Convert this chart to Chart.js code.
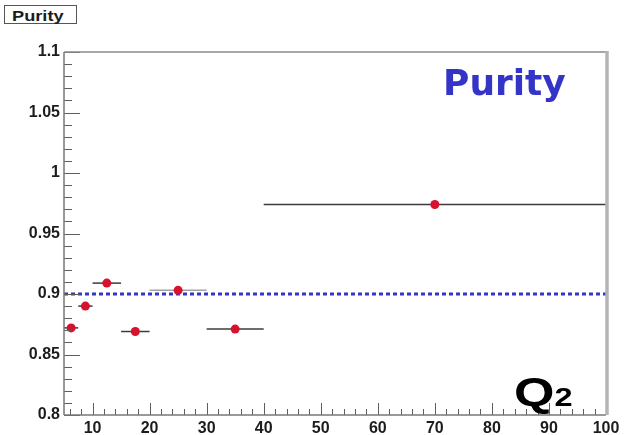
<!DOCTYPE html>
<html>
<head>
<meta charset="utf-8">
<script src="https://cdn.jsdelivr.net/npm/chart.js@4/dist/chart.umd.min.js"></script>
<style>
  body { margin: 0; background: #fff; }
  #wrap { position: relative; width: 626px; height: 435px; overflow: hidden; }
  #wrap canvas { position: absolute; left: 0; top: 0; }
  .lbl { position: absolute; line-height: 1; white-space: nowrap; transform-origin: left top; }
  #statBox { position: absolute; left: 4px; top: 5px; width: 71px; height: 17px; border: 1.5px solid #555; background: #fff; }
  #statText { left: 12px; top: 8px; font: bold 14px "Liberation Sans", Arial, sans-serif; color: #1c1c1c; transform: scaleX(1.3); }
  #bigTitle { left: 443px; top: 62px; font: bold 36px "DejaVu Sans", sans-serif; color: #3434c8; }
  #axisName { left: 514px; top: 370px; font: bold 40px "Liberation Sans", Arial, sans-serif; color: #000; transform: scaleX(1.3); }
  #axisName span { font-size: 25px; }
</style>
</head>
<body>
<div id="wrap">
  <canvas id="chartPurity" width="626" height="435"></canvas>
  <div id="statBox"></div>
  <div class="lbl" id="statText">Purity</div>
  <div class="lbl" id="bigTitle">Purity</div>
  <div class="lbl" id="axisName">Q<span>2</span></div>
</div>
<script>
// Q2 bins: centre, lower and upper edge
const q2Mid = [6.25, 8.75, 12.5, 17.5, 25, 35, 70];
const q2Lo  = [5, 7.5, 10, 15, 20, 30, 40];
const q2Hi  = [7.5, 10, 15, 20, 30, 40, 100];
const purity = [0.872, 0.890, 0.909, 0.869, 0.903, 0.871, 0.974];

const refLevel = 0.9;
const xTicks = [10, 20, 30, 40, 50, 60, 70, 80, 90, 100];
const yTicks = [0.8, 0.85, 0.9, 0.95, 1, 1.05, 1.1];

const tickFont = { family: 'Liberation Sans', size: 16, weight: 'bold' };

// horizontal bin-width bars, drawn under the markers
const errorBars = {
  id: 'errorBars',
  beforeDatasetsDraw(chart) {
    const { ctx, scales: { x, y } } = chart;
    ctx.save();
    ctx.lineWidth = 1.5;
    q2Lo.forEach((lo, i) => {
      const py = y.getPixelForValue(purity[i]);
      ctx.strokeStyle = i === 4 ? '#a2a2a2' : '#3c3c3c';
      ctx.beginPath();
      ctx.moveTo(x.getPixelForValue(lo), py);
      ctx.lineTo(x.getPixelForValue(q2Hi[i]), py);
      ctx.stroke();
    });
    ctx.restore();
  },
};

// ROOT-style frame with ticks pointing into the pad
const frame = {
  id: 'frame',
  afterDraw(chart) {
    const { ctx, chartArea: a, scales: { x, y } } = chart;
    const seg = (x1, y1, x2, y2) => { ctx.beginPath(); ctx.moveTo(x1, y1); ctx.lineTo(x2, y2); ctx.stroke(); };
    ctx.save();
    ctx.strokeStyle = '#5e5e5e';
    ctx.lineWidth = 1;
    for (let v = 80; v <= 110; v++) {
      const py = Math.round(y.getPixelForValue(v / 100)) + 0.5;
      seg(a.left, py, a.left + (v % 5 === 0 ? 16 : 8), py);
    }
    for (let v = 6; v <= 100; v += 2) {
      const px = Math.round(x.getPixelForValue(v)) + 0.5;
      seg(px, a.bottom, px, a.bottom - (v % 10 === 0 ? 12 : 6));
    }
    ctx.lineWidth = 1.5;
    ctx.strokeStyle = '#777';
    seg(a.left, a.top, a.left, a.bottom);
    seg(a.left, a.bottom, a.right, a.bottom);
    ctx.strokeStyle = '#8a8a8a';
    seg(a.left, a.top, a.right, a.top);
    ctx.lineWidth = 3.5;
    ctx.strokeStyle = '#b4b4b4';
    seg(a.right + 1, a.top - 1, a.right + 1, a.bottom);
    ctx.restore();
  },
};

new Chart(document.getElementById('chartPurity'), {
  type: 'scatter',
  data: {
    datasets: [
      {
        data: q2Mid.map((q, i) => ({ x: q, y: purity[i] })),
        backgroundColor: '#d8112d',
        borderWidth: 0,
        pointRadius: 4.5,
      },
      {
        type: 'line',
        data: [{ x: 5, y: refLevel }, { x: 100, y: refLevel }],
        borderColor: '#3434c8',
        borderWidth: 3,
        borderDash: [4, 3],
        pointRadius: 0,
      },
    ],
  },
  options: {
    responsive: false,
    animation: false,
    layout: { padding: { top: 52, right: 20, left: 0, bottom: 0 } },
    plugins: { legend: { display: false }, tooltip: { enabled: false } },
    scales: {
      x: {
        type: 'linear',
        min: 5,
        max: 100,
        afterBuildTicks: s => { s.ticks = xTicks.map(v => ({ value: v })); },
        afterFit: s => { s.height = 20; },
        grid: { display: false, drawTicks: false },
        border: { display: false },
        ticks: { autoSkip: false, maxRotation: 0, padding: 4, color: '#1c1c1c', font: tickFont },
      },
      y: {
        min: 0.8,
        max: 1.1,
        afterBuildTicks: s => { s.ticks = yTicks.map(v => ({ value: v })); },
        afterFit: s => { s.width = 64; },
        grid: { display: false, drawTicks: false },
        border: { display: false },
        ticks: {
          padding: 4,
          color: '#1c1c1c',
          font: tickFont,
          callback: v => String(+v.toFixed(2)),
        },
      },
    },
  },
  plugins: [errorBars, frame],
});
</script>
</body>
</html>
